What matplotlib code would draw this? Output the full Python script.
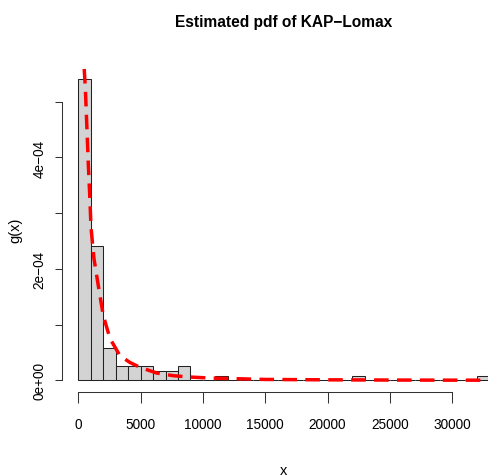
import matplotlib
matplotlib.use("Agg")
import matplotlib.pyplot as plt
from matplotlib import font_manager

names = {f.name for f in font_manager.fontManager.ttflist}
if 'Liberation Sans Narrow' in names:
    base = 'Liberation Sans Narrow'
    fs_tick, fs_title, fs_lab = 10.5, 11.8, 10.5
else:
    base = 'Liberation Sans'
    fs_tick, fs_title, fs_lab = 9.8, 11.2, 10.5
plt.rcParams['font.family'] = [base, 'DejaVu Sans']

# Histogram data (bin width 1000)
bin_edges = list(range(0, 34000, 1000))
bin_counts = [65, 29, 7, 3, 3, 3, 2, 2, 3, 0, 0, 1, 0, 0, 0, 0, 0,
              0, 0, 0, 0, 0, 1, 0, 0, 0, 0, 0, 0, 0, 0, 0, 1]

# Fitted KAP-Lomax pdf
curve_x = [400, 457, 562, 698, 803, 915, 1019, 1156, 1260, 1605, 2006, 2544,
           3347, 4149, 4952, 6292, 7624, 8965, 10570, 15000, 20000, 25000,
           30000, 34000]
curve_y = [6.0e-4, 5.65e-4, 5.26e-4, 4.49e-4, 3.88e-4, 3.34e-4, 2.75e-4,
           2.42e-4, 2.18e-4, 1.70e-4, 1.16e-4, 7.5e-5, 4.4e-5, 3.2e-5,
           2.33e-5, 1.31e-5, 8.3e-6, 5.9e-6, 4.1e-6, 1.6e-6, 9e-7, 5e-7,
           3e-7, 2e-7]

x_ticks = [0, 5000, 10000, 15000, 20000, 25000, 30000]
y_ticks = [0, 1e-4, 2e-4, 3e-4, 4e-4, 5e-4]
y_ticklabels = ["0e+00", "", "2e\u221204", "", "4e\u221204", ""]

W, H = 489, 477
fig = plt.figure(figsize=(W / 100, H / 100), dpi=100)
left, right, top, bottom = 61.85, 506.0, 67.5, 393.4
ax = fig.add_axes([left / W, 1 - bottom / H, (right - left) / W, (bottom - top) / H])

ax.hist(bin_edges[:-1], bins=bin_edges, weights=bin_counts, density=True,
        color='#D3D3D3', edgecolor='#222222', linewidth=0.75)
ax.plot(curve_x, curve_y, color='#FF0000', linewidth=2.5,
        dashes=(4.2, 2.4), solid_capstyle='butt')

ymax = 65 / 120000
ax.set_xlim(-1320, 34320)
ax.set_ylim(-0.04 * ymax, 1.04 * ymax)

for s in ['top', 'right']:
    ax.spines[s].set_visible(False)
ax.spines['left'].set_bounds(0, 5e-4)
ax.spines['bottom'].set_bounds(0, 30000)
for s in ['left', 'bottom']:
    ax.spines[s].set_linewidth(0.75)
    ax.spines[s].set_color('#333333')

ax.set_xticks(x_ticks)
ax.set_xticklabels([str(v) for v in x_ticks], fontsize=fs_tick)
ax.set_yticks(y_ticks)
ax.set_yticklabels(y_ticklabels, fontsize=fs_tick, rotation=90, va='center')
ax.tick_params(axis='x', length=8, width=0.75, color='#333333', pad=10)
ax.tick_params(axis='y', length=5, width=0.75, color='#333333', pad=6)

ax.set_xlabel("x", fontsize=fs_lab, va='center')
ax.xaxis.set_label_coords(0.5, (bottom - 471) / (bottom - top))
ax.set_ylabel("g(x)", fontsize=fs_lab, va='center')
ax.yaxis.set_label_coords((15 - left) / (right - left), 0.5)
fig.text((left + right) / 2 / W, 1 - 23 / H, "Estimated pdf of KAP\u2212Lomax",
         ha='center', va='center', fontsize=fs_title, fontweight='bold')

fig.savefig("out.png", dpi=100)
